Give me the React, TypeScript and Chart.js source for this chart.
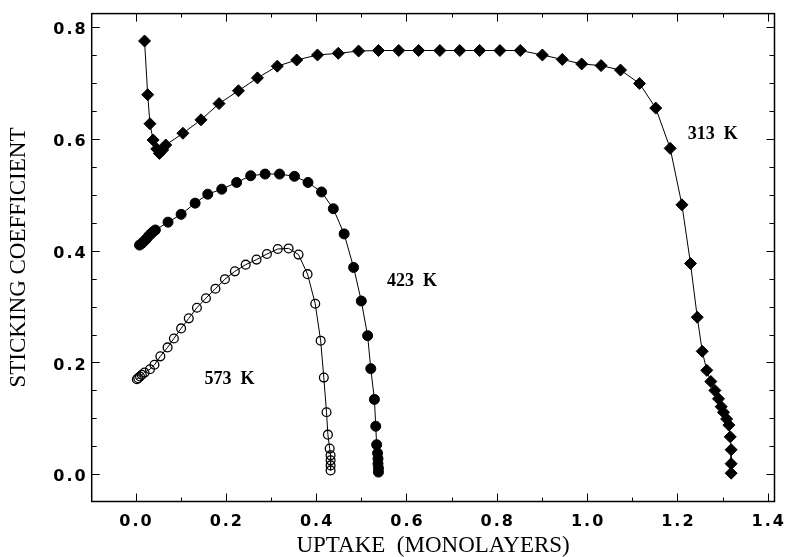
import React, { useEffect, useRef } from 'react';
import { Chart, registerables } from 'chart.js';

Chart.register(...registerables);

// 313 K (filled diamonds)
const x313 = [0.020, 0.027, 0.032, 0.039, 0.047, 0.053, 0.060, 0.067, 0.105, 0.145, 0.185, 0.228, 0.270, 0.314, 0.357, 0.403, 0.449, 0.494, 0.538, 0.583, 0.627, 0.674, 0.718, 0.762, 0.807, 0.852, 0.901, 0.945, 0.988, 1.031, 1.074, 1.116, 1.152, 1.184, 1.210, 1.229, 1.244, 1.255, 1.265, 1.274, 1.283, 1.291, 1.297, 1.302, 1.309, 1.314, 1.317, 1.319, 1.319, 1.319];
const y313 = [0.775, 0.679, 0.627, 0.598, 0.582, 0.574, 0.580, 0.589, 0.610, 0.634, 0.663, 0.686, 0.709, 0.730, 0.741, 0.750, 0.753, 0.757, 0.758, 0.758, 0.758, 0.758, 0.758, 0.758, 0.758, 0.758, 0.750, 0.742, 0.734, 0.731, 0.723, 0.699, 0.655, 0.583, 0.482, 0.377, 0.281, 0.220, 0.186, 0.166, 0.150, 0.135, 0.121, 0.111, 0.099, 0.088, 0.067, 0.044, 0.019, 0.002];

// 423 K (filled circles)
const x423 = [0.009, 0.014, 0.019, 0.024, 0.029, 0.034, 0.039, 0.044, 0.072, 0.101, 0.132, 0.160, 0.191, 0.224, 0.255, 0.287, 0.319, 0.352, 0.382, 0.412, 0.438, 0.462, 0.483, 0.500, 0.514, 0.521, 0.529, 0.532, 0.534, 0.536, 0.537, 0.537, 0.538, 0.538];
const y423 = [0.410, 0.413, 0.417, 0.421, 0.426, 0.430, 0.434, 0.437, 0.451, 0.465, 0.485, 0.501, 0.510, 0.522, 0.534, 0.537, 0.537, 0.533, 0.522, 0.505, 0.475, 0.430, 0.370, 0.310, 0.248, 0.189, 0.134, 0.086, 0.053, 0.038, 0.028, 0.019, 0.011, 0.004];

// 573 K (open circles)
const x573 = [0.003, 0.006, 0.010, 0.014, 0.020, 0.032, 0.042, 0.055, 0.071, 0.085, 0.101, 0.118, 0.136, 0.156, 0.177, 0.198, 0.220, 0.244, 0.268, 0.291, 0.315, 0.339, 0.361, 0.381, 0.398, 0.410, 0.417, 0.423, 0.426, 0.430, 0.432, 0.432, 0.432, 0.432];
const y573 = [0.170, 0.172, 0.175, 0.178, 0.182, 0.188, 0.196, 0.211, 0.227, 0.243, 0.261, 0.279, 0.298, 0.315, 0.332, 0.349, 0.363, 0.375, 0.384, 0.394, 0.403, 0.404, 0.393, 0.358, 0.305, 0.239, 0.173, 0.111, 0.071, 0.046, 0.034, 0.025, 0.016, 0.007];

// curve labels
const labelTexts = ['313  K', '423  K', '573  K'];
const labelX = [1.223, 0.557, 0.153];
const labelY = [0.608, 0.346, 0.169];

const xTitle = 'UPTAKE  (MONOLAYERS)';
const yTitle = 'STICKING COEFFICIENT';

const pts = (xs: number[], ys: number[]) => xs.map((x, i) => ({ x, y: ys[i] }));

export default function App() {
  const ref = useRef<HTMLCanvasElement>(null);

  useEffect(() => {
    if (!ref.current) return;

    const decor = {
      id: 'decor',
      beforeDraw(chart: any) {
        chart.ctx.letterSpacing = '2px';
      },
      afterDatasetsDraw(chart: any) {
        chart.ctx.letterSpacing = '0px';
      },
      afterDraw(chart: any) {
        const { ctx, chartArea: a, scales } = chart;
        const xs = scales.x;
        const ys = scales.y;
        ctx.save();
        ctx.letterSpacing = '0px';
        ctx.strokeStyle = '#000';
        ctx.lineWidth = 1.5;
        ctx.strokeRect(a.left, a.top, a.right - a.left, a.bottom - a.top);
        ctx.lineWidth = 1;
        ctx.beginPath();
        for (let k = 0; k <= 16; k++) {
          const py = Math.round(ys.getPixelForValue(k * 0.05)) + 0.5;
          const len = k % 4 === 0 ? 8 : 5;
          ctx.moveTo(a.left, py);
          ctx.lineTo(a.left + len, py);
          ctx.moveTo(a.right, py);
          ctx.lineTo(a.right - len, py);
        }
        for (let k = 0; k <= 14; k++) {
          const px = Math.round(xs.getPixelForValue(k * 0.1)) + 0.5;
          const len = k % 2 === 0 ? 8 : 4;
          ctx.moveTo(px, a.bottom);
          ctx.lineTo(px, a.bottom - len);
          ctx.moveTo(px, a.top);
          ctx.lineTo(px, a.top + len);
        }
        ctx.stroke();
        ctx.font = 'bold 18px "Liberation Serif"';
        ctx.fillStyle = '#000';
        ctx.textAlign = 'left';
        ctx.textBaseline = 'middle';
        labelTexts.forEach((t, i) => {
          ctx.fillText(t, xs.getPixelForValue(labelX[i]), ys.getPixelForValue(labelY[i]));
        });
        ctx.restore();
      },
    };

    const tickFont = { family: '"DejaVu Sans"', size: 16, weight: 'bold' as const };
    const titleFont = { family: '"Liberation Serif"', size: 23, lineHeight: 1.0 };

    const chart = new Chart(ref.current, {
      type: 'scatter',
      data: {
        datasets: [
          {
            label: '313 K',
            data: pts(x313, y313),
            showLine: true,
            borderColor: '#000',
            borderWidth: 1,
            tension: 0,
            pointStyle: 'rectRot',
            pointRadius: 6,
            pointBackgroundColor: '#000',
            pointBorderColor: '#000',
            pointBorderWidth: 1,
          },
          {
            label: '423 K',
            data: pts(x423, y423),
            showLine: true,
            borderColor: '#000',
            borderWidth: 1,
            tension: 0,
            pointStyle: 'circle',
            pointRadius: 5,
            pointBackgroundColor: '#000',
            pointBorderColor: '#000',
            pointBorderWidth: 1,
          },
          {
            label: '573 K',
            data: pts(x573, y573),
            showLine: true,
            borderColor: '#000',
            borderWidth: 1,
            tension: 0,
            pointStyle: 'circle',
            pointRadius: 4.4,
            pointBackgroundColor: 'rgba(0,0,0,0)',
            pointBorderColor: '#000',
            pointBorderWidth: 1.3,
          },
        ],
      },
      options: {
        animation: false,
        responsive: true,
        maintainAspectRatio: false,
        layout: { padding: { top: 13, right: 10.3, left: 0, bottom: 0 } },
        plugins: {
          legend: { display: false },
          tooltip: { enabled: false },
        },
        scales: {
          x: {
            type: 'linear',
            min: -0.097,
            max: 1.415,
            grid: { display: false, drawTicks: false, z: 1 },
            border: { display: false },
            ticks: {
              stepSize: 0.2,
              includeBounds: false,
              autoSkip: false,
              maxRotation: 0,
              padding: 11,
              labelOffset: 1,
              color: '#000',
              font: tickFont,
              callback: (v: any) => Number(v).toFixed(1),
            },
            title: {
              display: true,
              text: xTitle,
              color: '#000',
              font: titleFont,
              padding: { top: 0, bottom: 0 },
            },
            afterFit: (s: any) => {
              s.height = 55.5;
            },
          },
          y: {
            type: 'linear',
            min: -0.0486,
            max: 0.824,
            grid: { display: false, drawTicks: false, z: 1 },
            border: { display: false },
            ticks: {
              stepSize: 0.2,
              includeBounds: false,
              autoSkip: false,
              padding: 4,
              labelOffset: 3,
              color: '#000',
              font: tickFont,
              callback: (v: any) => Number(v).toFixed(1),
            },
            title: {
              display: true,
              text: yTitle,
              color: '#000',
              font: titleFont,
              padding: { top: 7, bottom: 0 },
            },
            afterFit: (s: any) => {
              s.width = 91.7;
            },
          },
        },
      },
      plugins: [decor],
    });

    return () => chart.destroy();
  }, []);

  return (
    <div style={{ position: 'fixed', left: 0, top: 0, width: 793, height: 557, background: '#fff' }}>
      <canvas ref={ref} />
    </div>
  );
}
